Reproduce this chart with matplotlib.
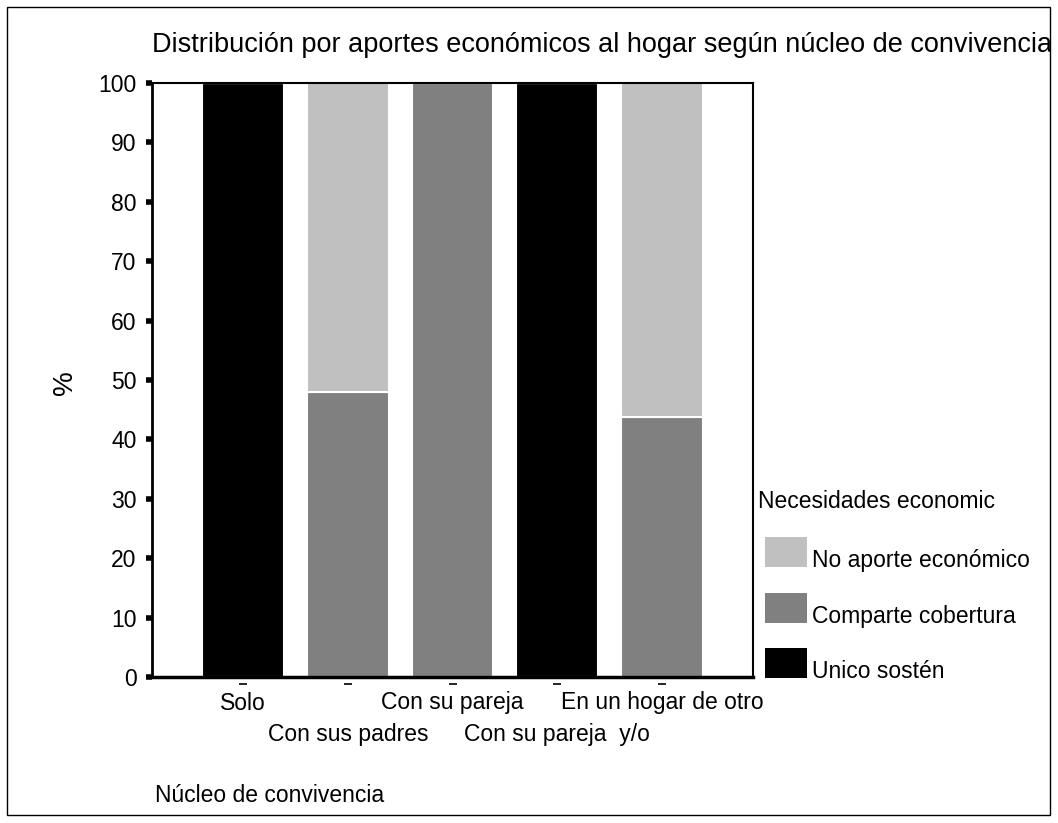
import numpy as np
import matplotlib.pyplot as plt
from matplotlib.patches import Rectangle

plt.rcParams['font.family'] = ['Liberation Sans', 'DejaVu Sans']

# data
categories = ['Solo', 'Con sus padres', 'Con su pareja', 'Con su pareja  y/o', 'En un hogar de otro']
series_names = ['Unico sostén', 'Comparte cobertura', 'No aporte económico']
unico = [100, 0, 0, 100, 0]
comparte = [0, 48.0, 100, 0, 43.7]
no_aporte = [0, 52.0, 0, 0, 56.3]
colors = ['#000000', '#808080', '#c0c0c0']

W, H = 1058, 823
fig = plt.figure(figsize=(W / 100, H / 100), dpi=100)
fs = 16.5

ax = fig.add_axes([152 / W, 1 - 677 / H, (753 - 152) / W, (677 - 83) / H])
x = np.arange(len(categories))
bottom = np.zeros(len(categories))
for vals, col in zip([unico, comparte, no_aporte], colors):
    vals = np.array(vals, dtype=float)
    ax.bar(x, vals, 0.78, bottom=bottom, color=col, edgecolor='white', linewidth=1.5, zorder=2)
    bottom += vals

ax.set_xlim(-0.87, len(categories) - 1 + 0.87)
ax.set_ylim(0, 100)
ax.set_yticks(np.arange(0, 101, 10))
ax.tick_params(axis='y', direction='out', length=4, width=4, labelsize=fs, pad=7)
ax.set_xticks([])
for s in ax.spines.values():
    s.set_linewidth(1.5)
    s.set_color('black')
ax.spines['bottom'].set_linewidth(2.5)
ax.spines['left'].set_linewidth(2)

# small dashes under each bar
ax.plot(x, [-1.2] * len(x), ls='none', marker='_', ms=6, mew=1.2, color='black', clip_on=False)

# staggered category labels
for i, lab in enumerate(categories):
    off = -26 if i % 2 == 0 else -58
    ax.annotate(lab, xy=(i, 0), xycoords=('data', 'axes fraction'), xytext=(0, off),
                textcoords='offset pixels', ha='center', va='center', fontsize=fs)

fig.text(65 / W, 1 - 383 / H, '%', fontsize=20, rotation=90, ha='center', va='center')

fig.text(152 / W, 1 - 45 / H, 'Distribución por aportes económicos al hogar según núcleo de convivencia',
         fontsize=19.5, ha='left', va='center')
fig.text(155 / W, 1 - 796 / H, 'Núcleo de convivencia', fontsize=fs, ha='left', va='center')

# legend
fig.text(758 / W, 1 - 502 / H, 'Necesidades economic', fontsize=fs, ha='left', va='center')
leg_y = [552, 608, 663]
for yy, name, col in zip(leg_y, series_names[::-1], colors[::-1]):
    fig.add_artist(Rectangle((765 / W, 1 - (yy + 15) / H), 42 / W, 30 / H,
                             facecolor=col, edgecolor='none', transform=fig.transFigure))
    fig.text(812 / W, 1 - (yy + 8) / H, name, fontsize=fs, ha='left', va='center')

# outer frame, title cut at its right edge
fig.add_artist(Rectangle((1050 / W, 0), 8 / W, 1, facecolor='white', edgecolor='none',
                         transform=fig.transFigure, zorder=10))
fig.add_artist(Rectangle((7 / W, 1 - 815 / H), 1043 / W, 808 / H, facecolor='none',
                         edgecolor='black', linewidth=1, transform=fig.transFigure, zorder=11))

fig.savefig('out.png', dpi=100)
